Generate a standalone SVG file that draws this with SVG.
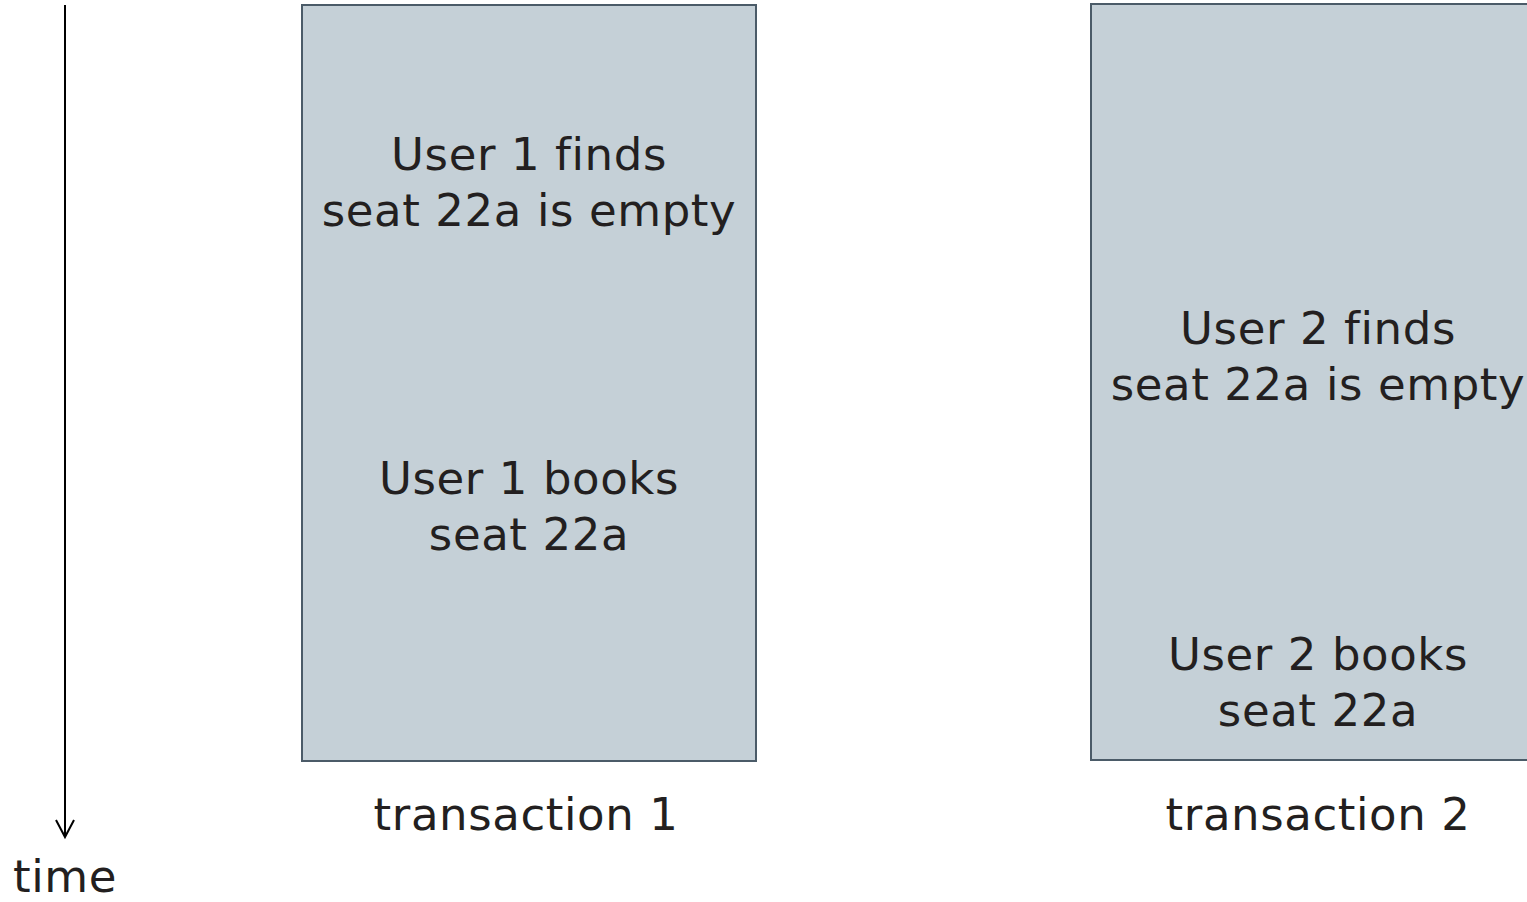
<svg xmlns="http://www.w3.org/2000/svg" width="1527" height="902" viewBox="0 0 1527 902">
<style>
.box{fill:#c5d0d7;stroke:#4b5b68;stroke-width:2}
.t{font-family:"DejaVu Sans","Open Sans",sans-serif;font-size:45px;fill:#231f20;text-anchor:middle;letter-spacing:0.6px}
.ax{stroke:#000;stroke-width:2;fill:none}
</style>
<rect width="1527" height="902" fill="#fff"/>
<g id="connectors">
<line class="ax" x1="65" y1="5" x2="65" y2="837"/>
<polyline class="ax" points="56,820 65,837 74,820"/>
</g>
<g id="time"><text class="t" x="65" y="892">time</text></g>
<g id="transaction1">
<rect class="box" x="302" y="5" width="454" height="756"/>
<text class="t" x="529" y="170">User 1 finds</text>
<text class="t" x="529" y="226">seat 22a is empty</text>
<text class="t" x="529" y="494">User 1 books</text>
<text class="t" x="529" y="550">seat 22a</text>
<text class="t" x="526" y="830">transaction 1</text>
</g>
<g id="transaction2">
<rect class="box" x="1091" y="4" width="454" height="756"/>
<text class="t" x="1318" y="344">User 2 finds</text>
<text class="t" x="1318" y="400">seat 22a is empty</text>
<text class="t" x="1318" y="670">User 2 books</text>
<text class="t" x="1318" y="726">seat 22a</text>
<text class="t" x="1318" y="830">transaction 2</text>
</g>
</svg>
